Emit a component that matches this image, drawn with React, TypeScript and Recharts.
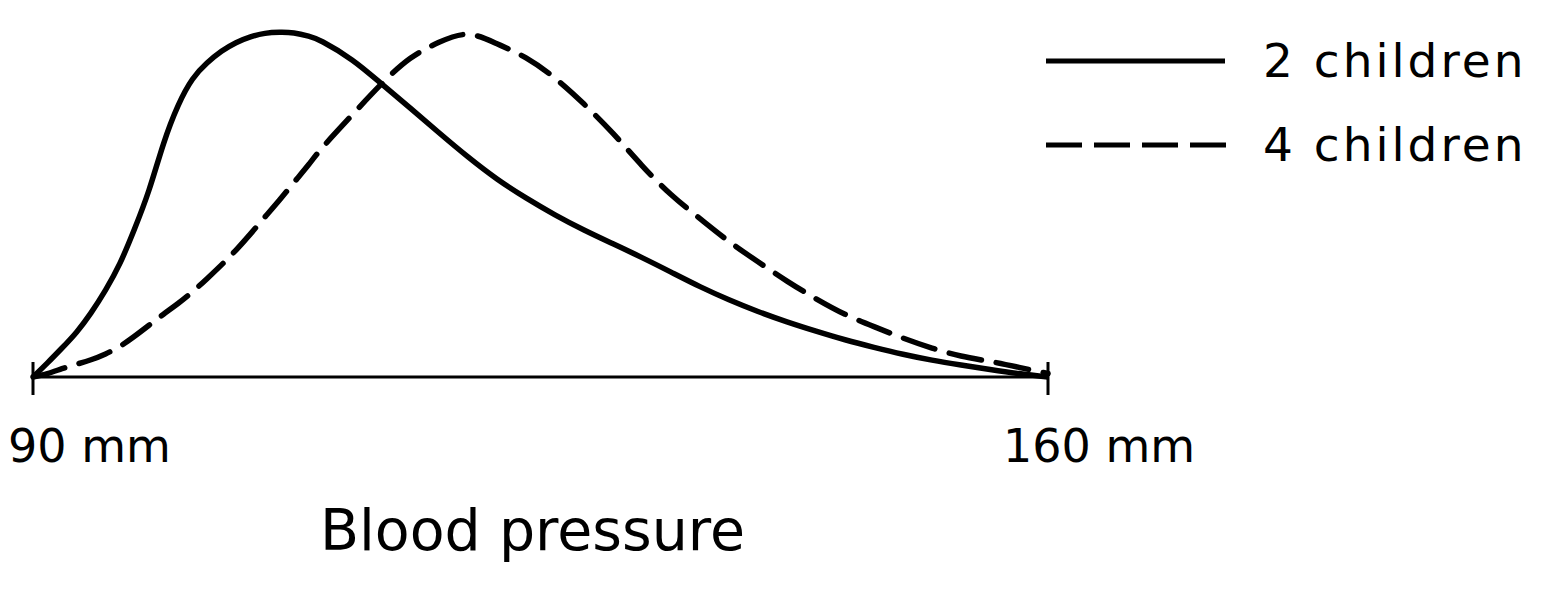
import React from "react";
import { LineChart, Line, XAxis, YAxis, Legend, Label } from "recharts";

const bloodPressureMm = [90, 91, 92, 93, 94, 95, 96, 97, 98, 99, 100, 101, 102, 103, 104, 105, 106, 107, 108, 109, 110, 112, 114, 116, 118, 120, 122, 124, 126, 128, 130, 132, 134, 136, 138, 140, 142, 144, 146, 148, 150, 152, 154, 156, 158, 160];
const twoChildren = [0, 4.1, 8.4, 13.0, 18.6, 25.2, 33.0, 42.9, 54.2, 67.6, 78.6, 86.3, 91.0, 94.4, 96.9, 98.6, 99.6, 99.9, 99.7, 98.8, 97.1, 91.9, 85.1, 78.0, 70.8, 63.8, 57.4, 51.9, 47.0, 42.6, 38.6, 34.6, 30.4, 26.2, 22.4, 19.0, 16.0, 13.3, 10.8, 8.6, 6.6, 4.9, 3.5, 2.2, 1.0, 0];
const fourChildren = [0, 1.0, 2.4, 3.7, 5.0, 6.7, 8.9, 11.8, 15.0, 18.2, 21.3, 24.7, 28.5, 32.5, 36.8, 41.5, 46.4, 51.3, 56.4, 61.5, 66.7, 75.9, 84.8, 92.3, 97.0, 99.3, 96.6, 92.5, 86.6, 79.1, 70.6, 61.3, 52.9, 45.9, 39.3, 33.4, 27.8, 22.7, 18.2, 14.6, 11.3, 8.4, 6.1, 4.5, 2.8, 1.0];
const tickValues = [90, 160];
const tickLabels = ["90 mm", "160 mm"];
const axisTitle = "Blood pressure";
const seriesNames = ["2 children", "4 children"];

const data = bloodPressureMm.map((x, i) => ({ x, two: twoChildren[i], four: fourChildren[i] }));

const FONT = "'DejaVu Sans', sans-serif";
const CURVE_DASH = "33 15";

const AxisTick = (props: any) => {
  const { x, y, index } = props;
  const dx = index === 0 ? -25 : -45;
  return (
    <g>
      <line x1={x} y1={y - 15} x2={x} y2={y + 18} stroke="#000" strokeWidth={3} />
      <text x={x + dx} y={y + 85} textAnchor="start" fontFamily={FONT} fontSize={46} fill="#000">
        {tickLabels[index]}
      </text>
    </g>
  );
};

const AxisTitle = (props: any) => {
  const vb = props.viewBox || {};
  const cx = vb.x + vb.width / 2 - 8;
  return (
    <text x={cx} y={vb.y + 173} textAnchor="middle" fontFamily={FONT} fontSize={57} fill="#000">
      {axisTitle}
    </text>
  );
};

const LegendContent = () => {
  const rowGap = 84;
  return (
    <svg width={500} height={140} style={{ display: "block", overflow: "visible" }}>
      {seriesNames.map((name, i) => {
        const y = 30 + i * rowGap;
        return (
          <g key={name}>
            <line
              x1={0}
              y1={y}
              x2={i === 0 ? 179 : 183}
              y2={y}
              stroke="#000"
              strokeWidth={5}
              strokeDasharray={i === 0 ? undefined : "36 12"}
            />
            <text
              x={217}
              y={y + 16}
              fontFamily={FONT}
              fontSize={47}
              letterSpacing={3}
              fill="#000"
            >
              {name}
            </text>
          </g>
        );
      })}
    </svg>
  );
};

export default function App() {
  return (
    <div style={{ width: 1537, height: 590, background: "#fff" }}>
      <LineChart
        width={1537}
        height={590}
        data={data}
        margin={{ top: 24, right: 497, left: 25, bottom: 0 }}
      >
        <XAxis
          dataKey="x"
          type="number"
          domain={[90, 160]}
          ticks={tickValues}
          height={221}
          tickSize={0}
          tickMargin={0}
          axisLine={{ stroke: "#000", strokeWidth: 3 }}
          tickLine={false}
          tick={<AxisTick />}
          interval={0}
        >
          <Label content={<AxisTitle />} />
        </XAxis>
        <YAxis hide domain={[0, 100]} width={0} />
        <Legend
          content={<LegendContent />}
          wrapperStyle={{ position: "absolute", left: 1038, top: 23, width: 0, height: 0, overflow: "visible" }}
        />
        <Line
          type="natural"
          dataKey="two"
          name={seriesNames[0]}
          stroke="#000"
          strokeWidth={5.5}
          dot={false}
          activeDot={false}
          isAnimationActive={false}
        />
        <Line
          type="natural"
          dataKey="four"
          name={seriesNames[1]}
          stroke="#000"
          strokeWidth={5.5}
          strokeDasharray={CURVE_DASH}
          strokeLinecap="round"
          dot={false}
          activeDot={false}
          isAnimationActive={false}
        />
      </LineChart>
    </div>
  );
}
